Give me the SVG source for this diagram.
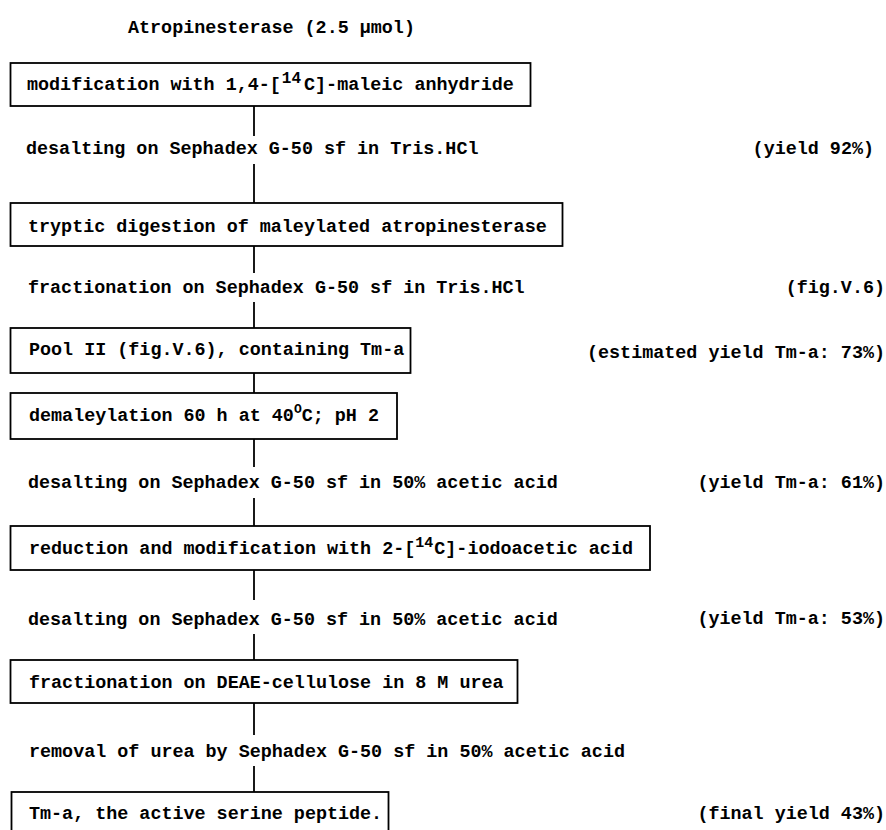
<svg xmlns="http://www.w3.org/2000/svg" width="886" height="830" viewBox="0 0 886 830">
<style>
text{font-family:"Liberation Mono","DejaVu Sans Mono",monospace;font-size:18.4px;fill:#000;font-weight:bold}
.sup{font-size:15px}
.r{text-anchor:end}
rect{fill:none;stroke:#000;stroke-width:1.8}
line{stroke:#000;stroke-width:1.8}
</style>
<rect x="0" y="0" width="886" height="830" style="fill:#fff;stroke:none"/>
<g id="title"><text x="128" y="33">Atropinesterase (2.5 µmol)</text></g>
<g id="connectors">
<line x1="254" y1="106" x2="254" y2="136"/>
<line x1="254" y1="164" x2="254" y2="203"/>
<line x1="254" y1="246" x2="254" y2="273"/>
<line x1="254" y1="302" x2="254" y2="328"/>
<line x1="254" y1="373" x2="254" y2="393"/>
<line x1="254" y1="439" x2="254" y2="467"/>
<line x1="254" y1="498" x2="254" y2="526"/>
<line x1="254" y1="570" x2="254" y2="600"/>
<line x1="254" y1="634" x2="254" y2="660"/>
<line x1="254" y1="703" x2="254" y2="735"/>
<line x1="254" y1="766" x2="254" y2="792"/>
</g>
<g id="n1"><rect x="10.5" y="63" width="520" height="43"/><text x="27" y="90">modification with 1,4-[<tspan class="sup" dy="-7" dx="1" style="font-size:16px">14</tspan><tspan dy="7" dx="3">C]-maleic anhydride</tspan></text></g>
<g id="s1"><text x="26" y="154">desalting on Sephadex G-50 sf in Tris.HCl</text><text class="r" x="874" y="154">(yield 92%)</text></g>
<g id="n2"><rect x="10.5" y="203" width="552" height="43"/><text x="28" y="232">tryptic digestion of maleylated atropinesterase</text></g>
<g id="s2"><text x="28" y="293">fractionation on Sephadex G-50 sf in Tris.HCl</text><text class="r" x="885" y="293">(fig.V.6)</text></g>
<g id="n3"><rect x="10.5" y="328" width="400" height="45"/><text x="29" y="355">Pool II (fig.V.6), containing Tm-a</text><text class="r" x="885" y="358">(estimated yield Tm-a: 73%)</text></g>
<g id="n4"><rect x="10.5" y="393" width="386.5" height="46"/><text x="29" y="421">demaleylation 60 h at 40<tspan class="sup" dy="-8" style="font-size:13px">O</tspan><tspan dy="8">C; pH 2</tspan></text></g>
<g id="s3"><text x="28" y="488">desalting on Sephadex G-50 sf in 50% acetic acid</text><text class="r" x="885" y="488">(yield Tm-a: 61%)</text></g>
<g id="n5"><rect x="10.5" y="526" width="639.5" height="44"/><text x="29" y="554">reduction and modification with 2-[<tspan class="sup" dy="-7">14</tspan><tspan dy="7" dx="1">C]-iodoacetic acid</tspan></text></g>
<g id="s4"><text x="28" y="625">desalting on Sephadex G-50 sf in 50% acetic acid</text><text class="r" x="885" y="624">(yield Tm-a: 53%)</text></g>
<g id="n6"><rect x="10.5" y="660" width="507" height="43"/><text x="29" y="688">fractionation on DEAE-cellulose in 8 M urea</text></g>
<g id="s5"><text x="29" y="757">removal of urea by Sephadex G-50 sf in 50% acetic acid</text></g>
<g id="n7"><rect x="11.5" y="792" width="377" height="50"/><text x="29" y="819">Tm-a, the active serine peptide.</text><text class="r" x="885" y="819">(final yield 43%)</text></g>
</svg>
